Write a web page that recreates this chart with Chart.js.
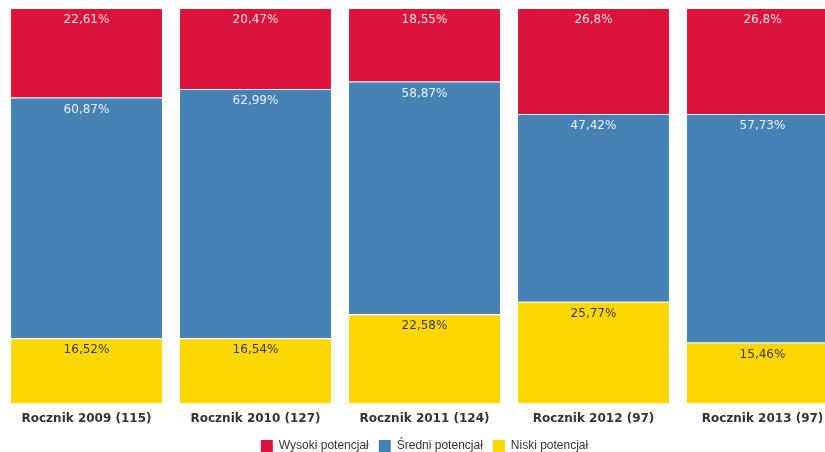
<!DOCTYPE html>
<html>
<head>
<meta charset="utf-8">
<script src="https://cdn.jsdelivr.net/npm/chart.js@4/dist/chart.umd.min.js"></script>
<style>
html,body{margin:0;padding:0;background:#fff;overflow:hidden;width:825px;height:452px;}
#wrap{width:850px;height:452px;}
</style>
</head>
<body>
<div id="wrap"><canvas id="c" width="850" height="452"></canvas></div>
<script>
const categories = ["Rocznik 2009 (115)", "Rocznik 2010 (127)", "Rocznik 2011 (124)", "Rocznik 2012 (97)", "Rocznik 2013 (97)"];
const seriesNames = ["Wysoki potencjał", "Średni potencjał", "Niski potencjał"];
const wysoki = [22.61, 20.47, 18.55, 26.8, 26.8];
const sredni = [60.87, 62.99, 58.87, 47.42, 57.73];
const niski = [16.52, 16.54, 22.58, 25.77, 15.46];

const fmt = v => String(v).replace('.', ',') + '%';

const labelPlugin = {
  id: 'segLabels',
  afterLayout(chart) {
    if (chart.legend) {
      chart.legend.top -= 4;
      chart.legend.bottom -= 4;
    }
  },
  afterDatasetsDraw(chart) {
    const ctx = chart.ctx;
    ctx.save();
    ctx.font = '12px "DejaVu Sans", Verdana, sans-serif';
    ctx.textAlign = 'center';
    ctx.textBaseline = 'top';
    chart.data.datasets.forEach((ds, di) => {
      const meta = chart.getDatasetMeta(di);
      meta.data.forEach((bar, i) => {
        const top = Math.min(bar.y, bar.base);
        ctx.fillStyle = ds.labelColor;
        ctx.fillText(fmt(ds.data[i]), bar.x, top + 6);
      });
    });
    ctx.restore();
  }
};

new Chart(document.getElementById('c'), {
  type: 'bar',
  data: {
    labels: categories,
    datasets: [
      { label: seriesNames[2], data: niski, backgroundColor: '#FFD700', borderColor: 'rgba(255,255,255,0.45)', borderWidth: 1, labelColor: '#3a3a3a' },
      { label: seriesNames[1], data: sredni, backgroundColor: '#4682B4', borderColor: 'rgba(255,255,255,0.45)', borderWidth: 1, labelColor: 'rgba(255,255,255,0.88)' },
      { label: seriesNames[0], data: wysoki, backgroundColor: '#DC143C', borderColor: 'rgba(255,255,255,0.45)', borderWidth: 1, labelColor: 'rgba(255,255,255,0.85)' }
    ]
  },
  options: {
    responsive: false,
    animation: false,
    layout: { padding: { top: 8, left: 2, right: 3, bottom: -14 } },
    datasets: { bar: { categoryPercentage: 0.905, barPercentage: 1.0 } },
    scales: {
      x: {
        stacked: true,
        grid: { display: false, drawTicks: false },
        border: { display: false },
        ticks: { color: '#333', font: { family: '"DejaVu Sans", Verdana, sans-serif', size: 12, weight: 'bold' }, padding: 8, maxRotation: 0 }
      },
      y: {
        stacked: true,
        display: false,
        min: 0,
        max: 100
      }
    },
    plugins: {
      tooltip: { enabled: false },
      legend: {
        position: 'bottom',
        reverse: true,
        labels: {
          color: '#333',
          boxWidth: 12,
          boxHeight: 12,
          padding: 10,
          font: { family: '"Liberation Sans", Arial, sans-serif', size: 12 },
          generateLabels(chart) {
            const items = Chart.defaults.plugins.legend.labels.generateLabels(chart);
            items.forEach(it => { it.lineWidth = 0; it.strokeStyle = 'transparent'; });
            return items;
          }
        }
      }
    }
  },
  plugins: [labelPlugin]
});
</script>
</body>
</html>
